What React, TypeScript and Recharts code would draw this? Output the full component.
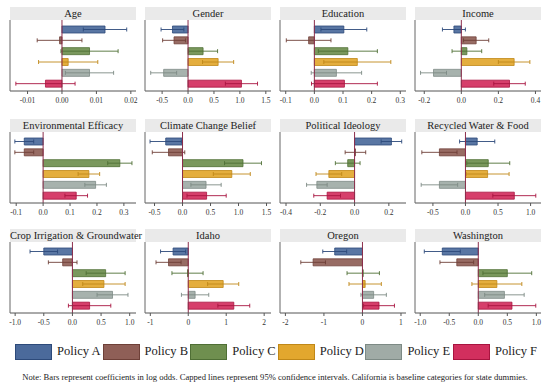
import React from "react";
import { BarChart, Bar, XAxis, YAxis, ErrorBar, ReferenceLine } from "recharts";

const policyNames = ["Policy A", "Policy B", "Policy C", "Policy D", "Policy E", "Policy F"];
const policyKeys = ["A", "B", "C", "D", "E", "F"];
const fills = ["#4b6a9b", "#8f5f57", "#6f8f4f", "#e2a72e", "#a0aba6", "#d22f5e"];
const strokes = ["#2d4a7a", "#6e4038", "#4f6f35", "#c08818", "#7d8a85", "#a8143f"];

const panelTitles = [
  "Age", "Gender", "Education", "Income",
  "Environmental Efficacy", "Climate Change Belief", "Political Ideology", "Recycled Water & Food",
  "Crop Irrigation & Groundwater", "Idaho", "Oregon", "Washington",
];

// coefficients (log odds) and half-width of the 95% CI
const ageCoef = [0.0125, -0.0007, 0.008, 0.0018, 0.008, -0.0048];
const ageCi = [0.0063, 0.0065, 0.0083, 0.0086, 0.007, 0.0086];
const genderCoef = [-0.3, -0.27, 0.29, 0.58, -0.47, 1.03];
const genderCi = [0.22, 0.22, 0.28, 0.3, 0.25, 0.31];
const educationCoef = [0.103, -0.02, 0.117, 0.15, 0.077, 0.105];
const educationCi = [0.08, 0.078, 0.103, 0.117, 0.088, 0.115];
const incomeCoef = [-0.04, 0.08, 0.03, 0.285, -0.15, 0.26];
const incomeCi = [0.062, 0.068, 0.08, 0.085, 0.07, 0.085];
const efficacyCoef = [-0.07, -0.07, 0.285, 0.17, 0.195, 0.123];
const efficacyCi = [0.035, 0.035, 0.045, 0.04, 0.04, 0.042];
const climateCoef = [-0.3, -0.25, 1.08, 0.88, 0.42, 0.43];
const climateCi = [0.28, 0.29, 0.33, 0.33, 0.27, 0.35];
const ideologyCoef = [0.215, 0.005, -0.04, -0.15, -0.22, -0.16];
const ideologyCi = [0.06, 0.06, 0.072, 0.075, 0.06, 0.078];
const recycledCoef = [0.18, -0.4, 0.35, 0.34, -0.4, 0.75];
const recycledCi = [0.27, 0.27, 0.33, 0.33, 0.28, 0.33];
const cropCoef = [-0.5, -0.17, 0.58, 0.55, 0.7, 0.3];
const cropCi = [0.24, 0.25, 0.34, 0.37, 0.27, 0.37];
const idahoCoef = [-0.4, -0.52, -0.02, 0.92, 0.18, 1.2];
const idahoCi = [0.33, 0.33, 0.41, 0.41, 0.36, 0.42];
const oregonCoef = [-0.72, -1.28, 0.02, 0.07, 0.29, 0.43];
const oregonCi = [0.31, 0.32, 0.42, 0.42, 0.33, 0.4];
const washingtonCoef = [-0.62, -0.37, 0.5, 0.32, 0.45, 0.58];
const washingtonCi = [0.31, 0.29, 0.42, 0.43, 0.34, 0.41];

const ageTicks = [-0.01, 0, 0.01, 0.02];
const genderTicks = [-0.5, 0, 0.5, 1, 1.5];
const educationTicks = [-0.1, 0, 0.1, 0.2, 0.3];
const incomeTicks = [-0.2, 0, 0.2, 0.4];
const efficacyTicks = [-0.1, 0, 0.1, 0.2, 0.3];
const climateTicks = [-0.5, 0, 0.5, 1, 1.5];
const ideologyTicks = [-0.4, -0.2, 0, 0.2];
const recycledTicks = [-0.5, 0, 0.5, 1];
const cropTicks = [-1, -0.5, 0, 0.5, 1];
const idahoTicks = [-1, 0, 1, 2];
const oregonTicks = [-2, -1, 0, 1];
const washingtonTicks = [-1, -0.5, 0, 0.5, 1];

const panels = [
  { coef: ageCoef, ci: ageCi, ticks: ageTicks, domain: [-0.0151, 0.0215], dec: 2 },
  { coef: genderCoef, ci: genderCi, ticks: genderTicks, domain: [-0.83, 1.6], dec: 1 },
  { coef: educationCoef, ci: educationCi, ticks: educationTicks, domain: [-0.12, 0.32], dec: 1 },
  { coef: incomeCoef, ci: incomeCi, ticks: incomeTicks, domain: [-0.25, 0.43], dec: 1 },
  { coef: efficacyCoef, ci: efficacyCi, ticks: efficacyTicks, domain: [-0.123, 0.345], dec: 1 },
  { coef: climateCoef, ci: climateCi, ticks: climateTicks, domain: [-0.67, 1.58], dec: 1 },
  { coef: ideologyCoef, ci: ideologyCi, ticks: ideologyTicks, domain: [-0.435, 0.3], dec: 1 },
  { coef: recycledCoef, ci: recycledCi, ticks: recycledTicks, domain: [-0.775, 1.16], dec: 1 },
  { coef: cropCoef, ci: cropCi, ticks: cropTicks, domain: [-1.09, 1.11], dec: 1 },
  { coef: idahoCoef, ci: idahoCi, ticks: idahoTicks, domain: [-1.14, 2.18], dec: 0 },
  { coef: oregonCoef, ci: oregonCi, ticks: oregonTicks, domain: [-2.14, 1.13], dec: 0 },
  { coef: washingtonCoef, ci: washingtonCi, ticks: washingtonTicks, domain: [-1.09, 1.08], dec: 1 },
];

const serif = "'Liberation Serif', 'Times New Roman', serif";
const colLeft = [10, 145, 280, 415];
const rowTop = [7, 119, 229];
const plotW = 126;
const stripH = 13;
const plotH = 71;
const pad = 14;

function Panel({ idx }: { idx: number }) {
  const p = panels[idx];
  const left = colLeft[idx % 4];
  const top = rowTop[Math.floor(idx / 4)];
  const rows = policyKeys.map((k, i) => ({ name: k, [k]: p.coef[i], ["err" + k]: p.ci[i] }));
  return (
    <>
      <div
        style={{
          position: "absolute", left, top, width: plotW, height: stripH,
          background: "#eaeaea", color: "#222", fontFamily: serif, fontSize: 10.5,
          lineHeight: stripH + "px", textAlign: "center", whiteSpace: "nowrap",
        }}
      >
        {panelTitles[idx]}
      </div>
      <div style={{ position: "absolute", left: left - pad - 1, top: top + stripH }}>
        <BarChart
          width={plotW + 2 * pad + 1}
          height={plotH + 17}
          data={rows}
          layout="vertical"
          margin={{ top: 0, right: pad, bottom: 0, left: pad }}
          barGap={-7}
          barSize={7}
        >
          <XAxis
            type="number"
            domain={p.domain}
            ticks={p.ticks}
            allowDataOverflow
            interval={0}
            tickFormatter={(v: number) => v.toFixed(p.dec)}
            tick={{ fontSize: 7.5, fill: "#333", fontFamily: serif }}
            tickSize={3}
            tickMargin={4}
            axisLine={{ stroke: "#555" }}
            tickLine={{ stroke: "#555" }}
            height={17}
          />
          <YAxis
            type="category"
            dataKey="name"
            width={1}
            tick={false}
            tickLine={false}
            axisLine={{ stroke: "#666" }}
            padding={{ top: 4, bottom: 2 }}
          />
          {policyKeys.map((k, i) => (
            <Bar
              key={k}
              dataKey={k}
              fill={fills[i]}
              fillOpacity={0.92}
              stroke={strokes[i]}
              strokeWidth={0.8}
              isAnimationActive={false}
            >
              <ErrorBar dataKey={"err" + k} direction="x" width={2} stroke={strokes[i]} strokeWidth={0.9} />
            </Bar>
          ))}
          <ReferenceLine x={0} stroke="#8c2d4b" strokeWidth={1} />
        </BarChart>
      </div>
    </>
  );
}

export default function App() {
  return (
    <div style={{ position: "absolute", left: 0, top: 0, width: 550, height: 388, background: "#fff", overflow: "hidden" }}>
      {panels.map((_, i) => (
        <Panel key={i} idx={i} />
      ))}
      {policyNames.map((name, i) => (
        <div
          key={name}
          style={{
            position: "absolute", left: 15 + i * 87.6, top: 343, height: 17,
            display: "flex", alignItems: "center", whiteSpace: "nowrap",
            fontFamily: serif, fontSize: 12.5, color: "#222",
          }}
        >
          <div style={{ flexShrink: 0, width: 37, height: 16, background: fills[i], border: `1px solid ${strokes[i]}`, boxSizing: "border-box", marginRight: 5 }} />
          <span style={{ flexShrink: 0 }}>{name}</span>
        </div>
      ))}
      <div
        style={{ position: "absolute", left: 0, top: 372, width: 550, textAlign: "center", fontFamily: serif, fontSize: 8.6, color: "#222", whiteSpace: "nowrap" }}
      >
        Note: Bars represent coefficients in log odds. Capped lines represent 95% confidence intervals. California is baseline categories for state dummies.
      </div>
    </div>
  );
}
